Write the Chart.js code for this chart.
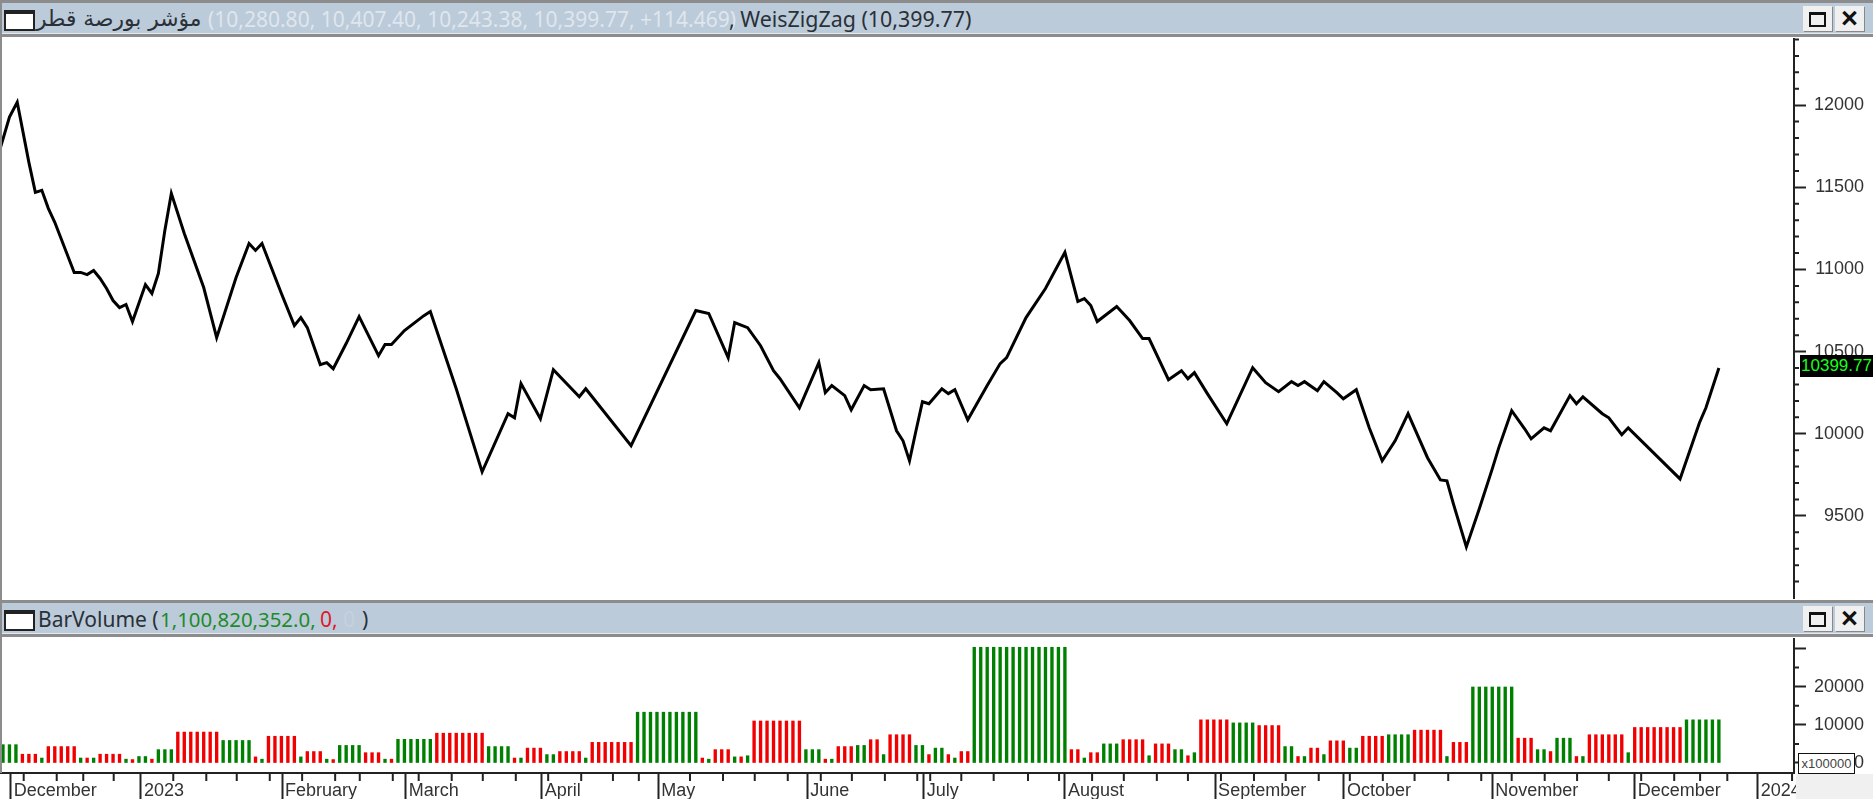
<!DOCTYPE html>
<html lang="en">
<head>
<meta charset="UTF-8">
<title>WeisZigZag</title>
<script src="https://cdn.jsdelivr.net/npm/chart.js"></script>
<style>
    html, body { margin: 0; padding: 0; background: #fff; overflow: hidden; width: 1873px; height: 799px; }
    canvas, .abs { position: absolute; }
    .bar { left: 0; width: 1873px; height: 31px; background: #bccbd9; border-top: 3px solid #8c8c8c; border-bottom: 3px solid #8c8c8c; box-shadow: inset 0 -1px 0 #e4e9ee; }
    .txt { position: absolute; top: 1px; font: 21px "Noto Sans", sans-serif; line-height: 30px; white-space: nowrap; color: #2a3038; }
    .icon { position: absolute; left: 4px; top: 7px; width: 27px; height: 15px; background: #fff; border: 2px solid #222; border-top-width: 4px; }
    .btn { position: absolute; top: 3px; width: 29px; height: 25px; background: #f0f0f0; box-shadow: 1px 1px 0 #888; }
    .max { position: absolute; left: 6px; top: 6px; width: 13px; height: 10px; border: 2px solid #111; border-top-width: 3px; }
    .cls { position: absolute; left: 0; top: 0; width: 29px; text-align: center; font: bold 29px/25px "Liberation Sans", sans-serif; color: #111; }
</style>
</head>
<body>
<div class="abs" style="left:0;top:0;width:2px;height:773px;background:#8c8c8c;z-index:3"></div>

<canvas id="priceChart" width="1864" height="561" style="left:0;top:38px"></canvas>
<canvas id="volumeChart" width="1864" height="161" style="left:0;top:638px"></canvas>

<div class="abs bar" style="top:0">
    <div class="icon"></div>
    <span class="txt" style="left:36px;font-family:'DejaVu Sans';font-size:21.8px" dir="rtl">مؤشر بورصة قطر</span>
    <span class="txt" style="left:208px;color:#dfe6ee">(10,280.80, 10,407.40, 10,243.38, 10,399.77, +114.469)</span>
    <span class="txt" style="left:729px;font-size:21.4px">, WeisZigZag (10,399.77)</span>
    <div class="btn" style="left:1803px"><div class="max"></div></div>
    <div class="btn" style="left:1835px"><div class="cls">×</div></div>
</div>
<div class="abs bar" style="top:600px">
    <div class="icon"></div>
    <span class="txt" style="left:38px">BarVolume (</span>
    <span class="txt" style="left:160px;color:#1f8a2a;font-size:20.4px">1,100,820,352.0,</span>
    <span class="txt" style="left:320px;color:#e0162b">0,</span>
    <span class="txt" style="left:343px;color:#c6d1dc">0</span>
    <span class="txt" style="left:362px">)</span>
    <div class="btn" style="left:1803px"><div class="max"></div></div>
    <div class="btn" style="left:1835px"><div class="cls">×</div></div>
</div>

<div class="abs" style="left:1800px;top:355px;width:73px;height:22px;background:#000;color:#19ff19;font:17px/22px 'Liberation Sans Narrow','Liberation Sans',sans-serif;text-align:center">10399.77</div>
<div class="abs" style="left:1796px;top:774px;width:77px;height:25px;background:#f0f0f0"></div>
<div class="abs" style="left:1798px;top:753px;width:55px;height:19px;background:#fff;border:1px solid #111;color:#444;font:13px/19px 'Liberation Sans',sans-serif;text-align:center">x100000</div>

<script>
    // price line, vertices of the zigzag: bar number and value
    const priceBar = [-0.4,1,2.2,4,5,6,7,8,11,12,13,14,15,16,17,18,19,20,22,23,24,25,26,28,31,33,36,38,39,40,43,45,46,47,49,50,51,53,55,58,59,60,62,65,66,70,
        74,78,79,80,83,85,89,90,97,107,109,112,113,115,117,119,120,123,126,127,128,130,131,133,134,136,138,139,140,141,142,143,145,146,147,149,152,154,
        155,158,161,164,166,167,168,169,172,174,176,177,180,182,183,184,186,189,193,195,197,199,200,201,203,204,206,207,209,211,213,215,217,220,222,223,224,226,
        228,230,231,233,235,236,238,239,242,243,244,247,248,250,251,259,262,263,265];
    const priceValue = [11740,11927,12018,11652,11469,11482,11372,11287,10982,10982,10969,10994,10945,10884,10811,10768,10787,10683,10908,10854,10976,11238,11463,11219,10890,10585,10951,11158,11116,11158,10854,10658,10707,10646,10421,10433,10396,10549,10713,10475,10543,10543,10628,10719,10744,10274,
        9768,10122,10097,10305,10091,10390,10225,10274,9927,10750,10732,10463,10677,10646,10536,10384,10335,10158,10433,10250,10293,10232,10146,10293,10268,10274,10018,9957,9835,10018,10195,10183,10274,10244,10268,10085,10293,10427,
        10463,10707,10884,11104,10805,10823,10780,10683,10774,10689,10579,10579,10329,10384,10335,10372,10244,10061,10402,10311,10256,10317,10293,10317,10262,10317,10250,10213,10268,10036,9835,9957,10122,9854,9719,9713,9573,9311,
        9543,9786,9914,10140,10030,9969,10036,10018,10232,10183,10225,10122,10097,9994,10036,9725,10067,10158,10399.77];

    // one value per bar, in units of the x100000 axis
    const volume = [4800,4800,4800, 2300,2300,2300,1300, 4300,4300,4300,4300,4300, 1300,1300,1300, 2300,2300,2300,2300, 1000,900,1700,1700,1000,
        3500,3500,3500, 8100,8100,8100,8100,8100,8100,8100, 5900,5900,5900,5900,5900, 1600,1000, 7000,7000,7000,7000,7000, 1600, 3000,3000,3000, 1000,900,
        4600,4600,4600,4600, 2700,2700,2700, 1000,1000, 6200,6200,6200,6200,6200,6200, 7800,7800,7800,7800,7800,7800,7800,7800,
        4300,4300,4300,4300, 1300,1300, 3900,3900,3900, 2200,2200, 3000,3000,3000,3000,1300, 5400,5400,5400,5400,5400,5400,5400,
        13300,13300,13300,13300,13300,13300,13300,13300,13300,13300, 1300,1000, 3500,3500,3500, 1600,1600,1900,
        11000,11000,11000,11000,11000,11000,11000,11000, 3500,3500,3500, 1000,1000, 4300,4300,4300, 4600,4600, 6100,6100, 2200, 7400,7400,7400,7400,
        4600,4600, 2200,3900,3900, 2200,1300, 3000,3000,
        30300,30300,30300,30300,30300,30300,30300,30300,30300,30300,30300,30300,30300,30300,30300,
        3500,3500,1300, 2700,2700, 5000,5000,5000, 6100,6100,6100,6100, 1900, 5000,5000,5000, 3500,3500, 1900,2700,
        11300,11300,11300,11300,11300, 10500,10500,10500,10500, 9800,9800,9800,9800, 4300,4300, 1700,1700, 3900,3900,2200, 5800,5800,5800, 3900,3900,
        7000,7000,7000,7000, 7400,7400,7400,7400, 8600,8600,8600,8600,8600, 1700, 5400,5400,5400,
        19900,19900,19900,19900,19900,19900,19900, 6500,6500,6500, 3500,3500, 3000, 6500,6500,6500, 1700,1700,
        7400,7400,7400,7400,7400,7400, 2700, 9300,9300,9300,9300,9300,9300,9300,9300, 11300,11300,11300,11300,11300,11300];
    // 1 = up bar, 0 = down bar
    const volumeUp = [1,1,1, 0,0,0,1, 0,0,0,0,0, 1,0,1, 0,0,0,0, 1,0,1,1,0,
        1,1,1, 0,0,0,0,0,0,0, 1,1,1,1,1, 0,1, 0,0,0,0,0, 1, 0,0,0, 1,0,
        1,1,1,1, 0,0,0, 1,0, 1,1,1,1,1,1, 0,0,0,0,0,0,0,0,
        1,1,1,1, 0,1, 0,0,0, 1,1, 0,0,0,0,1, 0,0,0,0,0,0,0,
        1,1,1,1,1,1,1,1,1,1, 0,1, 0,0,0, 1,0,1,
        0,0,0,0,0,0,0,0, 1,1,1, 0,1, 0,0,0, 1,1, 0,0, 1, 0,0,0,0,
        1,1, 0,1,1, 0,1, 0,0,
        1,1,1,1,1,1,1,1,1,1,1,1,1,1,1,
        0,0,1, 0,0, 1,1,1, 0,0,0,0, 1, 0,0,0, 1,1, 0,1,
        0,0,0,0,0, 1,1,1,1, 0,0,0,0, 1,1, 0,1, 0,0,1, 0,0,0, 1,1,
        0,0,0,0, 1,1,1,1, 0,0,0,0,0, 1, 0,0,0,
        1,1,1,1,1,1,1, 0,0,0, 1,1, 0, 1,1,1, 0,1,
        0,0,0,0,0,0, 1, 0,0,0,0,0,0,0,0, 1,1,1,1,1,1];

    const monthLabels = ['December','2023','February','March','April','May','June','July','August','September','October','November','December','2024'];
    const monthBars = [1.2,21.3,43.1,62.2,83.2,101.2,124.2,142.2,164,187.2,207.1,230,252,271];
    const weekBars = [3.2,8.3,12.4,17.1,26.3,31.4,36.1,41.2,46.2,51.3,55.1,60.2,64.2,69.3,74.1,79.2,84.2,89.3,94.2,98.2,106.1,111.2,116.1,121.2,126.3,131.1,136.2,141.2,143.2,148,153,158.3,163.1,168.2,173.1,178.2,183,188.1,193.2,198.1,203.2,208,213.1,218,223.2,228.3,233,238.1,243.1,248,253,258.1,262.1,266.3,276.3];

    const priceTicks = [9500,10000,10500,11000,11500,12000];
    const priceMinorTicks = [9100,9200,9300,9400,9600,9700,9800,9900,10100,10200,10300,10400,10600,10700,10800,10900,11100,11200,11300,11400,11600,11700,11800,11900,12100,12200,12300,12400];
    const volumeTicks = [0,10000,20000,30000];
    const volumeMinorTicks = [5000,15000,25000];

    const INK = '#222';
    const LABEL = '#333';
    const tickFont = { family: '"Liberation Sans", Arial, sans-serif', size: 18 };
    const xRange = { min: -0.46, max: 276.6 };

    // Chart.js has one tick length per axis, so the short ticks go in here
    function shortTicks(axisId, values, len) {
        return {
            id: 'shortTicks' + axisId,
            afterDraw(chart) {
                const scale = chart.scales[axisId];
                const ctx = chart.ctx;
                ctx.save();
                ctx.strokeStyle = INK;
                ctx.lineWidth = 2;
                ctx.beginPath();
                values.forEach(v => {
                    const p = scale.getPixelForValue(v);
                    if (axisId === 'x') {
                        ctx.moveTo(p, scale.top);
                        ctx.lineTo(p, scale.top + len);
                    } else {
                        ctx.moveTo(scale.left, p);
                        ctx.lineTo(scale.left + len, p);
                    }
                });
                ctx.stroke();
                ctx.restore();
            }
        };
    }

    function yAxis(min, max, ticks, hideLabels) {
        return {
            position: 'right',
            min: min,
            max: max,
            afterBuildTicks: axis => { axis.ticks = ticks.map(v => ({ value: v })); },
            afterFit: axis => { axis.width = 70; axis.paddingTop = 0; axis.paddingBottom = 0; },
            border: { color: INK, width: 2 },
            grid: { drawOnChartArea: false, tickLength: 12, tickColor: INK, tickWidth: 2 },
            ticks: {
                autoSkip: false,
                padding: 0,
                crossAlign: 'far',
                color: LABEL,
                font: tickFont,
                callback: v => hideLabels.includes(v) ? '' : String(v)
            }
        };
    }

    new Chart(document.getElementById('priceChart'), {
        type: 'line',
        data: {
            datasets: [{
                data: priceBar.map((b, i) => ({ x: b, y: priceValue[i] })),
                borderColor: '#000',
                borderWidth: 3,
                pointRadius: 0,
                tension: 0
            }]
        },
        plugins: [shortTicks('y', priceMinorTicks, 5)],
        options: {
            responsive: false,
            animation: false,
            layout: { padding: 0 },
            plugins: { legend: { display: false }, tooltip: { enabled: false } },
            scales: {
                x: { type: 'linear', display: false, min: xRange.min, max: xRange.max },
                y: yAxis(8994, 12409, priceTicks, [])
            }
        }
    });

    new Chart(document.getElementById('volumeChart'), {
        type: 'bar',
        data: {
            datasets: [{
                data: volume.map((v, i) => ({ x: i, y: v })),
                backgroundColor: volumeUp.map(u => u ? '#008000' : '#f00000'),
                barThickness: 2.7
            }]
        },
        plugins: [shortTicks('x', weekBars, 8), shortTicks('y', volumeMinorTicks, 5)],
        options: {
            responsive: false,
            animation: false,
            layout: { padding: 0 },
            plugins: { legend: { display: false }, tooltip: { enabled: false } },
            scales: {
                x: {
                    type: 'linear',
                    offset: false,
                    min: xRange.min,
                    max: xRange.max,
                    afterBuildTicks: axis => { axis.ticks = monthBars.map(v => ({ value: v })); },
                    afterFit: axis => { axis.height = 26; axis.paddingLeft = 0; axis.paddingRight = 0; },
                    border: { color: INK, width: 2 },
                    grid: { offset: false, drawOnChartArea: false, tickLength: 26, tickColor: INK, tickWidth: 2 },
                    ticks: {
                        autoSkip: false,
                        maxRotation: 0,
                        align: 'start',
                        labelOffset: 3,
                        padding: -19,
                        color: LABEL,
                        font: tickFont,
                        callback: (v, i) => monthLabels[i]
                    }
                },
                y: yAxis(-2618, 32723, volumeTicks, [30000])
            }
        }
    });
</script>
</body>
</html>
